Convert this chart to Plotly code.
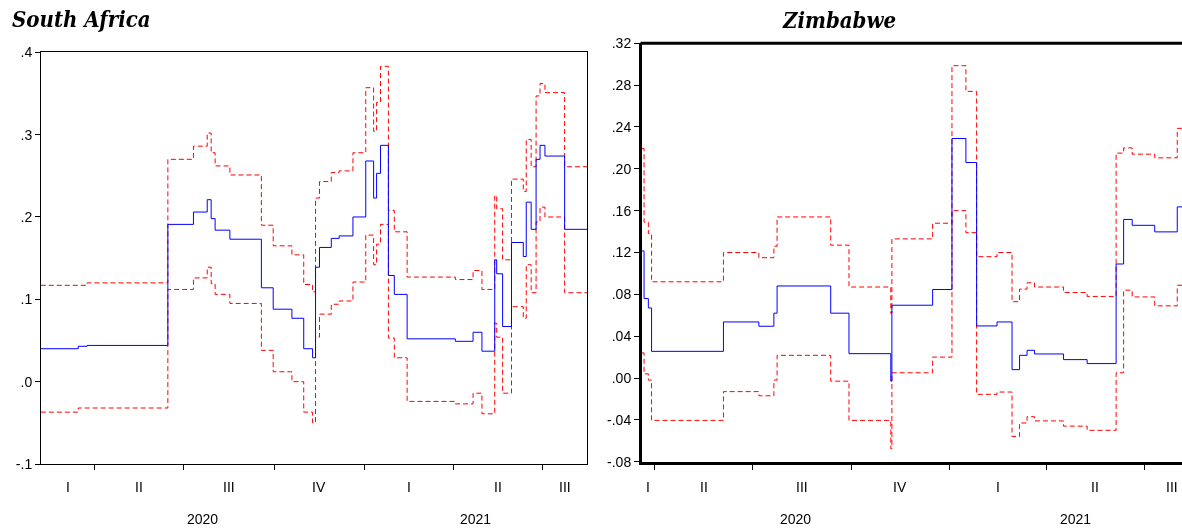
import plotly.graph_objects as go
from datetime import datetime

# ---------------- South Africa (rolling coefficient and +/- 2 S.E. bands) ----------------
sa_dates = ["2020-02-07", "2020-03-16", "2020-03-25", "2020-06-15", "2020-07-11", "2020-07-25",
            "2020-07-29", "2020-08-02", "2020-08-17", "2020-09-18", "2020-09-30", "2020-10-19",
            "2020-10-31", "2020-11-09", "2020-11-12", "2020-11-16", "2020-11-28", "2020-12-06",
            "2020-12-20", "2021-01-02", "2021-01-10", "2021-01-13", "2021-01-17", "2021-01-25",
            "2021-01-31", "2021-02-13", "2021-04-03", "2021-04-21", "2021-04-30", "2021-05-13",
            "2021-05-15", "2021-05-21", "2021-05-30", "2021-06-11", "2021-06-14", "2021-06-19",
            "2021-06-24", "2021-06-28", "2021-07-03", "2021-07-23", "2021-08-14 17:00"]
sa_coef = [0.040, 0.043, 0.044, 0.191, 0.206, 0.221, 0.198, 0.184, 0.173, 0.114, 0.088, 0.077,
           0.040, 0.029, 0.139, 0.163, 0.174, 0.177, 0.200, 0.268, 0.223, 0.253, 0.287, 0.129,
           0.106, 0.052, 0.049, 0.060, 0.037, 0.148, 0.131, 0.067, 0.169, 0.152, 0.218, 0.185,
           0.270, 0.287, 0.274, 0.185, 0.185]
sa_upper = [0.117, 0.117, 0.120, 0.270, 0.286, 0.302, 0.278, 0.262, 0.251, 0.190, 0.165, 0.154,
            0.118, 0.109, 0.223, 0.243, 0.254, 0.256, 0.278, 0.357, 0.304, 0.339, 0.383, 0.208,
            0.182, 0.127, 0.124, 0.135, 0.112, 0.226, 0.210, 0.148, 0.246, 0.231, 0.294, 0.261,
            0.347, 0.362, 0.351, 0.261, 0.261]
sa_lower = [-0.037, -0.032, -0.032, 0.112, 0.126, 0.139, 0.119, 0.106, 0.095, 0.038, 0.012, 0.000,
            -0.037, -0.050, 0.054, 0.082, 0.094, 0.098, 0.121, 0.178, 0.142, 0.167, 0.191, 0.053,
            0.029, -0.024, -0.027, -0.014, -0.039, 0.071, 0.054, -0.014, 0.091, 0.077, 0.142, 0.108,
            0.194, 0.212, 0.200, 0.108, 0.108]

# ---------------- Zimbabwe ----------------
zw_dates = ["2020-03-20", "2020-03-22", "2020-03-26", "2020-03-29", "2020-06-04", "2020-07-07",
            "2020-07-21", "2020-07-24", "2020-09-12", "2020-09-29", "2020-11-07", "2020-11-08",
            "2020-12-16", "2021-01-03", "2021-01-16", "2021-01-26", "2021-02-14", "2021-02-28",
            "2021-03-07", "2021-03-14", "2021-03-21", "2021-04-17", "2021-05-09", "2021-06-05",
            "2021-06-12", "2021-06-20", "2021-07-11", "2021-08-01", "2021-08-23"]
zw_coef = [0.1215, 0.076, 0.067, 0.0255, 0.0536, 0.0495, 0.062, 0.088, 0.062, 0.0233, -0.003, 0.0696,
           0.0846, 0.229, 0.206, 0.0498, 0.0536, 0.008, 0.0217, 0.0265, 0.023, 0.0176, 0.0138, 0.109,
           0.1516, 0.146, 0.1397, 0.1636, 0.1636]
zw_upper = [0.2195, 0.149, 0.138, 0.092, 0.120, 0.115, 0.126, 0.154, 0.127, 0.087, 0.062, 0.133,
            0.148, 0.2986, 0.274, 0.116, 0.120, 0.073, 0.085, 0.091, 0.087, 0.0817, 0.078, 0.215,
            0.220, 0.214, 0.2105, 0.2387, 0.2387]
zw_lower = [0.024, 0.004, -0.002, -0.0405, -0.013, -0.017, -0.002, 0.0217, -0.003, -0.0405, -0.0676, 0.005,
            0.020, 0.160, 0.139, -0.0156, -0.0134, -0.056, -0.043, -0.037, -0.041, -0.046, -0.050, 0.005,
            0.084, 0.0775, 0.069, 0.0887, 0.0887]

# tick labels
sa_yticks = [-0.1, 0.0, 0.1, 0.2, 0.3, 0.4]
sa_ytext = ["-.1", ".0", ".1", ".2", ".3", ".4"]
zw_yticks = [-0.08, -0.04, 0.0, 0.04, 0.08, 0.12, 0.16, 0.20, 0.24, 0.28, 0.32]
zw_ytext = ["-.08", "-.04", ".00", ".04", ".08", ".12", ".16", ".20", ".24", ".28", ".32"]
quarter_names = ["I", "II", "III", "IV"]
years = [2020, 2021]
titles = ["South Africa", "Zimbabwe"]

# axis ranges (visible window)
sa_range = ["2020-02-07 04:00", "2021-08-14 17:00"]
zw_range = ["2020-03-20 02:00", "2021-08-05 10:00"]
zw_period_end = "2021-08-23"

W, H = 1182, 531
BLUE = "#0000FF"
RED = "#FF0000"
TICKFONT = dict(family="Liberation Sans, Arial, sans-serif", size=14, color="#000000")
LABFONT = dict(family="Liberation Sans Narrow, Liberation Sans, Arial, sans-serif", size=14, color="#000000")

fig = go.Figure()

def add_panel(dates, coef, upper, lower, xa, ya):
    for vals, col, dash in [(upper, RED, "5px,3px"), (lower, RED, "5px,3px"), (coef, BLUE, "solid")]:
        fig.add_trace(go.Scatter(x=dates, y=vals, mode="lines", xaxis=xa, yaxis=ya,
                                 line=dict(color=col, width=1, dash=dash, shape="hv"),
                                 showlegend=False, hoverinfo="skip"))

add_panel(sa_dates, sa_coef, sa_upper, sa_lower, "x", "y")
add_panel(zw_dates, zw_coef, zw_upper, zw_lower, "x2", "y2")

# pixel layout
L1, R1, T1, B1 = 41, 587, 52.3, 464
L2, R2, T2, B2 = 642, 1182, 43.3, 461.7

def px(x):
    return x / W

def py(y):
    return 1 - y / H

common_x = dict(type="date", showgrid=False, zeroline=False, showticklabels=False,
                ticks="outside", tickvals=["2021-01-01"], ticktext=[""], tickcolor="#000000",
                minor=dict(ticks="outside", dtick="M3", tick0="2020-01-01", ticklen=5,
                           tickcolor="#000000", showgrid=False),
                automargin=False, fixedrange=True)
common_y = dict(showgrid=False, zeroline=False, ticks="outside", ticklen=5, tickcolor="#000000",
                tickfont=TICKFONT, automargin=False, fixedrange=True)

fig.update_layout(
    width=W, height=H, margin=dict(l=0, r=0, t=0, b=0),
    paper_bgcolor="#FFFFFF", plot_bgcolor="#FFFFFF",
    xaxis=dict(common_x, domain=[px(L1), px(R1)], range=sa_range, anchor="y", ticklen=9,
               showline=True, linecolor="#000000", linewidth=1, mirror=True, tickwidth=1),
    yaxis=dict(common_y, domain=[py(B1), py(T1)], range=[-0.1, 0.4], anchor="x",
               tickvals=sa_yticks, ticktext=sa_ytext,
               showline=True, linecolor="#000000", linewidth=1, mirror=True),
    xaxis2=dict(common_x, domain=[px(L2), min(1.0, px(R2))], range=zw_range, anchor="y2", ticklen=10,
                showline=True, linecolor="#000000", linewidth=3, tickwidth=1),
    yaxis2=dict(common_y, domain=[py(B2), py(T2)], range=[-0.08, 0.32], anchor="x2",
                tickvals=zw_yticks, ticktext=zw_ytext,
                showline=True, linecolor="#000000", linewidth=3),
)

# thick top border of Zimbabwe panel (no right border: panel continues past the window)
fig.add_shape(type="line", xref="paper", yref="paper", x0=px(L2 - 1.5), x1=1.0,
              y0=py(T2), y1=py(T2), line=dict(color="#000000", width=3))

# quarter and year labels
def to_dt(s):
    return datetime.fromisoformat(s)

def mid(a, b):
    return a + (b - a) / 2

def add_period_labels(xref, start, end):
    s, e = to_dt(start), to_dt(end)
    for y in years:
        for q in range(4):
            qs = datetime(y, 3 * q + 1, 1)
            qe = datetime(y + (1 if q == 3 else 0), 1 if q == 3 else 3 * q + 4, 1)
            a, b = max(qs, s), min(qe, e)
            if b <= a:
                continue
            fig.add_annotation(x=mid(a, b), xref=xref, y=py(487), yref="paper",
                               text=quarter_names[q], showarrow=False, font=LABFONT,
                               xanchor="center", yanchor="middle")
        ys, ye = datetime(y, 1, 1), datetime(y + 1, 1, 1)
        a, b = max(ys, s), min(ye, e)
        fig.add_annotation(x=mid(a, b), xref=xref, y=py(519), yref="paper",
                           text=str(y), showarrow=False, font=LABFONT,
                           xanchor="center", yanchor="middle")

add_period_labels("x", sa_range[0], sa_range[1])
add_period_labels("x2", zw_range[0], zw_period_end)

TITLEFONT = dict(family="DejaVu Serif Condensed, DejaVu Serif, serif", size=22, color="#000000")
fig.add_annotation(x=px(10), y=py(19), xref="paper", yref="paper", text="<b><i>" + titles[0] + "</i></b>",
                   showarrow=False, xanchor="left", yanchor="middle", font=TITLEFONT)
fig.add_annotation(x=px(839), y=py(20), xref="paper", yref="paper", text="<b><i>" + titles[1] + "</i></b>",
                   showarrow=False, xanchor="center", yanchor="middle", font=TITLEFONT)

fig.write_html("out.html",
               config={"displayModeBar": False, "staticPlot": True},
               post_script=("document.body.style.margin='0';"
                            "document.body.style.overflow='hidden';"
                            "var g=document.querySelector('.plotly-graph-div');"
                            "if(g){g.style.willChange='transform';}"))
